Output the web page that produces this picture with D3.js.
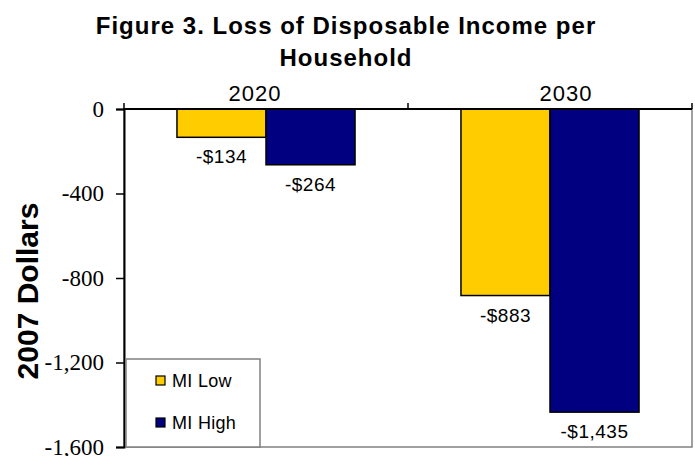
<!DOCTYPE html>
<html>
<head>
<meta charset="utf-8">
<script src="https://cdn.jsdelivr.net/npm/d3@7.9.0/dist/d3.min.js"></script>
<style>
  body { margin: 0; background: #fff; }
  svg { display: block; }
</style>
</head>
<body>
<svg id="chart" width="695" height="456"></svg>
<script>
// Chart data
const years = ['2020', '2030'];
const seriesNames = ['MI Low', 'MI High'];
const miLow = [-134, -883];
const miHigh = [-264, -1435];
const yTicks = [0, -400, -800, -1200, -1600];

const seriesValues = [miLow, miHigh];
const colors = ['#FFCC00', '#000080'];

const SANS = 'Liberation Sans, Arial, sans-serif';
const SERIF = 'Liberation Serif, Times New Roman, serif';

// Layout
const plot = { left: 124, right: 692, top: 109, bottom: 447 };
const yearLabelShift = [-11, 16];

const svg = d3.select('#chart');

const y = d3.scaleLinear().domain([0, -1600]).range([plot.top, plot.bottom]);
const x0 = d3.scaleBand().domain(years).range([plot.left, plot.right])
  .paddingInner(0.373).paddingOuter(0.1865);
const x1 = d3.scaleBand().domain(seriesNames).range([0, x0.bandwidth()]);

const fmtMoney = (v) => '-$' + d3.format(',')(Math.abs(v));
const fmtTick = (v) => (v < 0 ? '-' : '') + d3.format(',')(Math.abs(v));

// Plot area frame (grey)
svg.append('rect')
  .attr('x', plot.left).attr('y', plot.top)
  .attr('width', plot.right - plot.left).attr('height', plot.bottom - plot.top)
  .attr('fill', '#fff').attr('stroke', '#808080').attr('stroke-width', 1.5);

// Bars
const rows = [];
years.forEach((yr, i) => {
  seriesNames.forEach((s, j) => rows.push({ year: yr, series: s, value: seriesValues[j][i], color: colors[j] }));
});

svg.append('g').selectAll('rect').data(rows).join('rect')
  .attr('x', d => x0(d.year) + x1(d.series))
  .attr('y', y(0))
  .attr('width', x1.bandwidth())
  .attr('height', d => y(d.value) - y(0))
  .attr('fill', d => d.color)
  .attr('stroke', '#000').attr('stroke-width', 1.5);

// Value labels
svg.append('g').selectAll('text').data(rows).join('text')
  .attr('font-family', SANS)
  .attr('x', d => x0(d.year) + x1(d.series) + x1.bandwidth() / 2)
  .attr('y', d => y(d.value) + 26)
  .attr('text-anchor', 'middle')
  .attr('font-size', 19)
  .attr('letter-spacing', 0.5)
  .attr('fill', '#000')
  .text(d => fmtMoney(d.value));

// Left axis
const yAxis = svg.append('g')
  .attr('transform', `translate(${plot.left},0)`)
  .call(d3.axisLeft(y).tickValues(yTicks).tickSize(8).tickPadding(12).tickFormat(fmtTick));
yAxis.select('.domain').attr('stroke', '#000').attr('stroke-width', 2);
yAxis.selectAll('.tick line').attr('stroke', '#000').attr('stroke-width', 1.5);
yAxis.selectAll('.tick text')
  .attr('font-family', SERIF)
  .attr('font-size', 23)
  .attr('fill', '#000');

// Top axis: line with ticks at category boundaries
const bounds = years.map(yr => x0(yr) - x0.step() * x0.paddingInner() / 2).concat([plot.right]);
const topAxis = svg.append('g');
topAxis.append('line')
  .attr('x1', plot.left).attr('x2', plot.right)
  .attr('y1', y(0)).attr('y2', y(0))
  .attr('stroke', '#000').attr('stroke-width', 2);
topAxis.selectAll('line.tick').data(bounds).join('line')
  .attr('class', 'tick')
  .attr('x1', d => d).attr('x2', d => d)
  .attr('y1', y(0)).attr('y2', y(0) - 6)
  .attr('stroke', '#000').attr('stroke-width', 1.5);

// Year labels
svg.append('g').selectAll('text').data(years).join('text')
  .attr('font-family', SANS)
  .attr('x', (d, i) => x0(d) + x0.bandwidth() / 2 + yearLabelShift[i])
  .attr('y', 101)
  .attr('text-anchor', 'middle')
  .attr('font-size', 22)
  .attr('letter-spacing', 1)
  .text(d => d);

// Title
const title = svg.append('text')
  .attr('font-family', SANS)
  .attr('text-anchor', 'middle')
  .attr('font-size', 24)
  .attr('font-weight', 'bold')
  .attr('letter-spacing', 1);
title.append('tspan').attr('x', 346).attr('y', 34).text('Figure 3. Loss of Disposable Income per');
title.append('tspan').attr('x', 346).attr('y', 66).text('Household');

// Y axis title
svg.append('text')
  .attr('font-family', SANS)
  .attr('transform', 'translate(38,291) rotate(-90)')
  .attr('text-anchor', 'middle')
  .attr('font-size', 30)
  .attr('font-weight', 'bold')
  .text('2007 Dollars');

// Legend
const legend = svg.append('g').attr('transform', 'translate(126,359)');
legend.append('rect')
  .attr('width', 134).attr('height', 88)
  .attr('fill', '#fff').attr('stroke', '#808080').attr('stroke-width', 1.5);
const items = legend.selectAll('g.item').data(seriesNames).join('g')
  .attr('class', 'item')
  .attr('transform', (d, i) => `translate(30,${17 + i * 42})`);
items.append('rect')
  .attr('width', 9).attr('height', 9)
  .attr('fill', (d, i) => colors[i])
  .attr('stroke', '#000').attr('stroke-width', 1.2);
items.append('text')
  .attr('font-family', SANS)
  .attr('x', 16).attr('y', 11)
  .attr('font-size', 18)
  .attr('letter-spacing', 0.3)
  .text(d => d);
</script>
</body>
</html>
